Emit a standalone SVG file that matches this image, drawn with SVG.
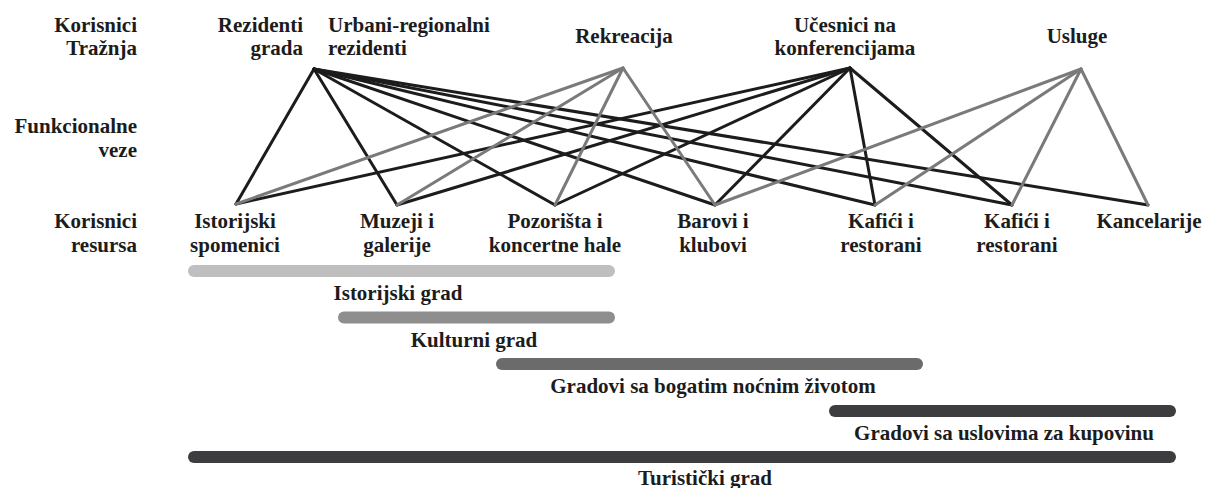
<svg xmlns="http://www.w3.org/2000/svg" width="1210" height="488" viewBox="0 0 1210 488">
<style>
text{font-family:'Liberation Serif','DejaVu Serif',serif;font-weight:700;font-size:21px;fill:#1c1c1c}
.r{text-anchor:end}
.m{text-anchor:middle}
.s{text-anchor:start}
.k line{stroke:#1c1c1c;stroke-width:3;stroke-linecap:round}
.g line{stroke:#7a7a7a;stroke-width:3;stroke-linecap:round}
.bar{stroke-width:12;stroke-linecap:round}
</style>
<rect width="1210" height="488" fill="#ffffff"/>
<g id="row-labels" font-family="Liberation Serif, serif">
<text class="r" x="137" y="32">Korisnici</text>
<text class="r" x="137" y="55">Tražnja</text>
<text class="r" x="137" y="133">Funkcionalne</text>
<text class="r" x="137" y="157">veze</text>
<text class="r" x="137" y="228">Korisnici</text>
<text class="r" x="137" y="252">resursa</text>
</g>
<g id="connectors">
<g class="k">
<line x1="314" y1="69" x2="236" y2="204"/>
<line x1="314" y1="69" x2="397" y2="205"/>
<line x1="314" y1="69" x2="555" y2="205"/>
<line x1="314" y1="69" x2="715" y2="205"/>
<line x1="314" y1="69" x2="875" y2="205"/>
<line x1="314" y1="69" x2="1012" y2="205"/>
<line x1="314" y1="69" x2="1148" y2="205"/>
<line x1="850" y1="68" x2="236" y2="204"/>
<line x1="850" y1="68" x2="397" y2="205"/>
<line x1="850" y1="68" x2="555" y2="205"/>
<line x1="850" y1="68" x2="715" y2="205"/>
<line x1="850" y1="68" x2="875" y2="205"/>
<line x1="850" y1="68" x2="1012" y2="205"/>
</g>
<g class="g">
<line x1="623" y1="68" x2="236" y2="204"/>
<line x1="623" y1="68" x2="397" y2="205"/>
<line x1="623" y1="68" x2="555" y2="205"/>
<line x1="623" y1="68" x2="715" y2="205"/>
<line x1="1081" y1="69" x2="715" y2="205"/>
<line x1="1081" y1="69" x2="875" y2="205"/>
<line x1="1081" y1="69" x2="1012" y2="205"/>
<line x1="1081" y1="69" x2="1148" y2="205"/>
</g>
</g>
<g id="node-rezidenti"><text class="r" x="303" y="32">Rezidenti</text><text class="r" x="303" y="55">grada</text></g>
<g id="node-urbani"><text class="s" x="328" y="32">Urbani-regionalni</text><text class="s" x="328" y="55">rezidenti</text></g>
<g id="node-rekreacija"><text class="m" x="624" y="43">Rekreacija</text></g>
<g id="node-ucesnici"><text class="m" x="845" y="32">Učesnici na</text><text class="m" x="845" y="55">konferencijama</text></g>
<g id="node-usluge"><text class="m" x="1077" y="43">Usluge</text></g>
<g id="node-istorijski"><text class="m" x="235" y="228">Istorijski</text><text class="m" x="235" y="252">spomenici</text></g>
<g id="node-muzeji"><text class="m" x="397" y="228">Muzeji i</text><text class="m" x="397" y="252">galerije</text></g>
<g id="node-pozorista"><text class="m" x="555" y="228">Pozorišta i</text><text class="m" x="555" y="252">koncertne hale</text></g>
<g id="node-barovi"><text class="m" x="713" y="228">Barovi i</text><text class="m" x="713" y="252">klubovi</text></g>
<g id="node-kafici1"><text class="m" x="881" y="228">Kafići i</text><text class="m" x="881" y="252">restorani</text></g>
<g id="node-kafici2"><text class="m" x="1017" y="228">Kafići i</text><text class="m" x="1017" y="252">restorani</text></g>
<g id="node-kancelarije"><text class="m" x="1149" y="228">Kancelarije</text></g>
<g id="bars">
<line class="bar" x1="194" y1="271" x2="609" y2="271" stroke="#bfbfbf"/>
<text class="m" x="398" y="300">Istorijski grad</text>
<line class="bar" x1="344" y1="317.5" x2="609" y2="317.5" stroke="#8e8e8e"/>
<text class="m" x="474" y="347">Kulturni grad</text>
<line class="bar" x1="502" y1="364" x2="917" y2="364" stroke="#6b6b6b"/>
<text class="m" x="713" y="393">Gradovi sa bogatim noćnim životom</text>
<line class="bar" x1="835" y1="411" x2="1170" y2="411" stroke="#3d3d3f"/>
<text class="m" x="1004" y="440">Gradovi sa uslovima za kupovinu</text>
<line class="bar" x1="194" y1="457" x2="1170" y2="457" stroke="#3d3d3f"/>
<text class="m" x="705" y="485">Turistički grad</text>
</g>
</svg>
